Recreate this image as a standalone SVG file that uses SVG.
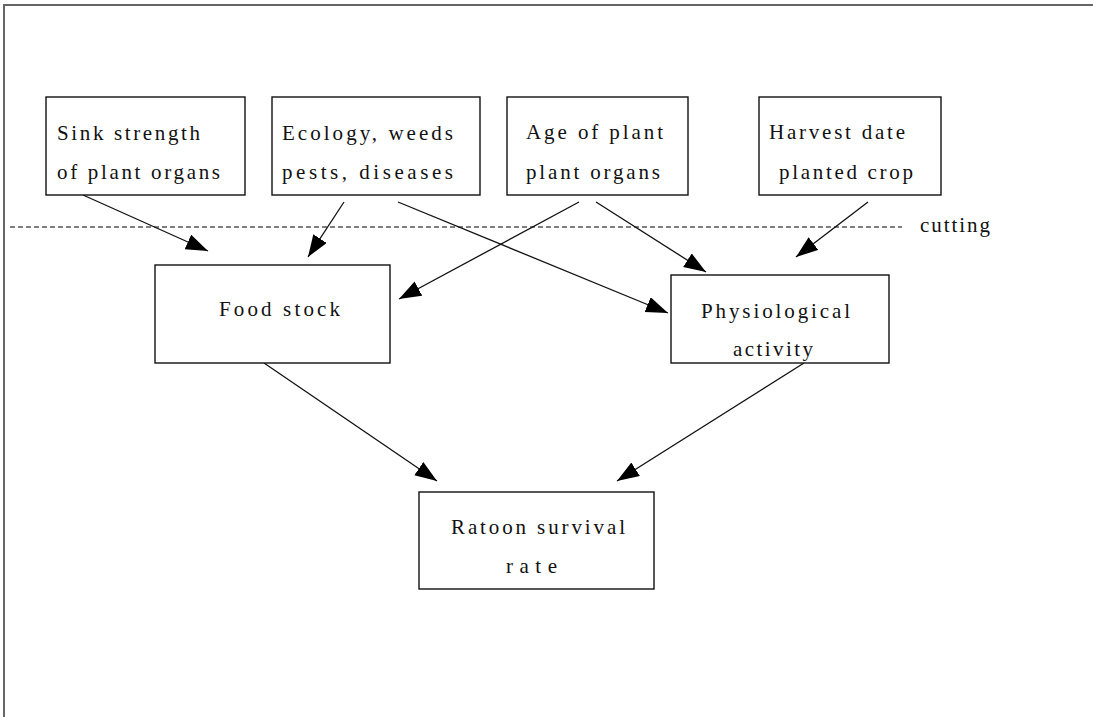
<svg xmlns="http://www.w3.org/2000/svg" width="1093" height="717" viewBox="0 0 1093 717">
<defs>
<style>
.box{fill:#fff;stroke:#111;stroke-width:1.4}
text{font-family:'Liberation Serif','DejaVu Serif','Times New Roman',serif;font-size:21px;fill:#111}
.c{stroke:#111;stroke-width:1.3;fill:none;marker-end:url(#ah)}
</style>
<marker id="ah" markerUnits="userSpaceOnUse" markerWidth="24" markerHeight="18" refX="22" refY="8" orient="auto">
<path d="M0,0 L22,8 L0,16 z" fill="#000"/>
</marker>
</defs>
<rect width="1093" height="717" fill="#fff"/>
<g id="frame">
<polyline points="4,717 4,5 1093,5" fill="none" stroke="#666" stroke-width="2"/>
</g>
<g id="cutting">
<line x1="10" y1="227" x2="902" y2="227" stroke="#000" stroke-width="1.2" stroke-dasharray="5 3"/>
<text x="920" y="232" textLength="70" lengthAdjust="spacing">cutting</text>
</g>
<g id="connectors">
<line class="c" x1="83" y1="195" x2="208" y2="251"/>
<line class="c" x1="344" y1="202" x2="308" y2="257"/>
<line class="c" x1="398" y1="202" x2="668" y2="313"/>
<line class="c" x1="579" y1="202" x2="399" y2="299"/>
<line class="c" x1="596" y1="202" x2="706" y2="272"/>
<line class="c" x1="868" y1="202" x2="796" y2="257"/>
<line class="c" x1="264" y1="363" x2="437" y2="481"/>
<line class="c" x1="804" y1="363" x2="617" y2="481"/>
</g>
<g id="sink">
<rect class="box" x="46" y="97" width="199" height="98"/>
<text x="57" y="140" textLength="143" lengthAdjust="spacing">Sink strength</text>
<text x="57" y="179" textLength="163" lengthAdjust="spacing">of plant organs</text>
</g>
<g id="ecology">
<rect class="box" x="272" y="97" width="208" height="98"/>
<text x="282" y="140" textLength="171" lengthAdjust="spacing">Ecology, weeds</text>
<text x="282" y="179" textLength="171" lengthAdjust="spacing">pests, diseases</text>
</g>
<g id="age">
<rect class="box" x="507" y="97" width="181" height="98"/>
<text x="526" y="139" textLength="137" lengthAdjust="spacing">Age of plant</text>
<text x="526" y="179" textLength="134" lengthAdjust="spacing">plant organs</text>
</g>
<g id="harvest">
<rect class="box" x="759" y="97" width="182" height="98"/>
<text x="769" y="139" textLength="136" lengthAdjust="spacing">Harvest date</text>
<text x="779" y="179" textLength="134" lengthAdjust="spacing">planted crop</text>
</g>
<g id="food">
<rect class="box" x="155" y="265" width="235" height="98"/>
<text x="219" y="316" textLength="121" lengthAdjust="spacing">Food stock</text>
</g>
<g id="physio">
<rect class="box" x="671" y="275" width="218" height="88"/>
<text x="701" y="318" textLength="149" lengthAdjust="spacing">Physiological</text>
<text x="733" y="356" textLength="80" lengthAdjust="spacing">activity</text>
</g>
<g id="ratoon">
<rect class="box" x="419" y="492" width="235" height="97"/>
<text x="451" y="534" textLength="174" lengthAdjust="spacing">Ratoon survival</text>
<text x="506" y="573" textLength="51" lengthAdjust="spacing">rate</text>
</g>
</svg>
